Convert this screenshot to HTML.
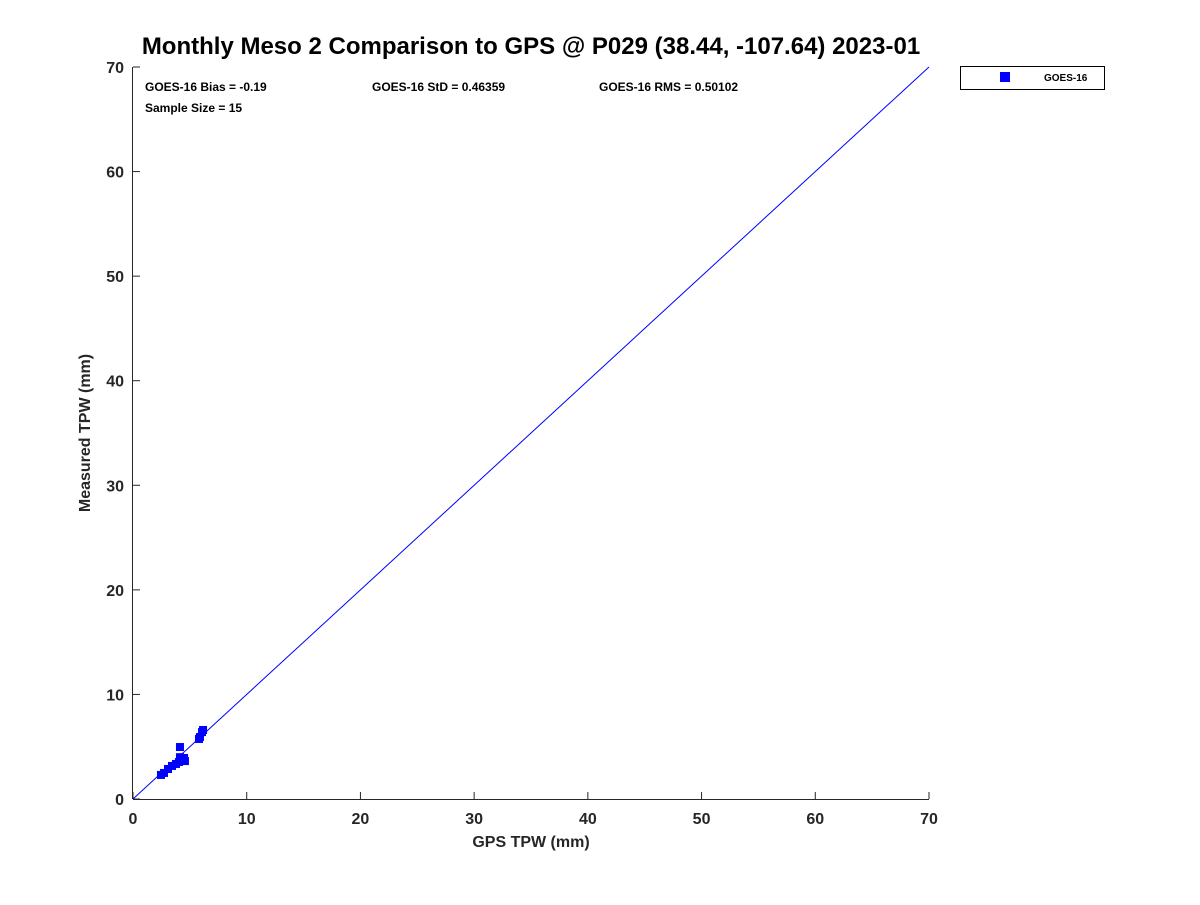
<!DOCTYPE html>
<html><head><meta charset="utf-8"><style>
body{margin:0;background:#fff;}
svg text{font-family:"Liberation Sans","DejaVu Sans",sans-serif;font-weight:bold;}
</style></head><body>
<svg id="chart" width="1200" height="900" xmlns="http://www.w3.org/2000/svg">
<rect width="1200" height="900" fill="#fff"/>
<text x="531" y="54" font-size="24" text-anchor="middle" fill="#000">Monthly Meso 2 Comparison to GPS @ P029 (38.44, -107.64) 2023-01</text>
<g id="axes"></g>
<g id="marks"></g>
<text x="145" y="91" font-size="12">GOES-16 Bias = -0.19</text>
<text x="372" y="91" font-size="12">GOES-16 StD = 0.46359</text>
<text x="599" y="91" font-size="12">GOES-16 RMS = 0.50102</text>
<text x="145" y="112" font-size="12">Sample Size = 15</text>
<text x="531" y="847" font-size="16" text-anchor="middle" fill="#262626">GPS TPW (mm)</text>
<text x="0" y="0" font-size="16" text-anchor="middle" fill="#262626" transform="translate(90,433) rotate(-90)">Measured TPW (mm)</text>
<g>
<rect x="960.5" y="66.5" width="144" height="23" fill="#fff" stroke="#000" stroke-width="1"/>
<rect x="1000" y="72" width="10" height="10" fill="#0000ff"/>
<text x="1044" y="81" font-size="10">GOES-16</text>
</g>
</svg>
<script>
const xTicks=[0,10,20,30,40,50,60,70];
const yTicks=[0,10,20,30,40,50,60,70];
const gpsValues=[2.46,2.73,3.08,3.43,3.78,4.05,4.31,4.49,4.57,4.13,4.13,5.80,5.89,6.07,6.16];
const measuredValues=[2.30,2.49,2.87,3.16,3.35,3.54,3.73,3.92,3.63,4.97,4.00,5.74,5.93,6.40,6.60];
const X0=133,X1=929,Y0=799,Y1=67,MIN=0,MAX=70;
const sx=v=>X0+(v-MIN)/(MAX-MIN)*(X1-X0);
const sy=v=>Y0-(v-MIN)/(MAX-MIN)*(Y0-Y1);
const NS="http://www.w3.org/2000/svg";
const axes=document.getElementById('axes'),marks=document.getElementById('marks');
function mk(tag,attrs,parent){const e=document.createElementNS(NS,tag);for(const k in attrs)e.setAttribute(k,attrs[k]);parent.appendChild(e);return e;}
let l=mk('line',{x1:X0,y1:Y0+0.5,x2:X1,y2:Y0+0.5,stroke:'#262626','stroke-width':1},axes);


l=mk('line',{x1:X0-0.5,y1:Y0,x2:X0-0.5,y2:Y1,stroke:'#262626','stroke-width':1},axes);


xTicks.forEach(t=>{
  const tk=mk('line',{x1:sx(t),y1:Y0,x2:sx(t),y2:Y0-7,stroke:'#262626'},axes);
  
  
  const tx=mk('text',{x:sx(t),y:Y0+25,'font-size':16,'text-anchor':'middle',fill:'#262626'},axes);
  tx.textContent=t;
  
  
});
yTicks.forEach(t=>{
  const tk=mk('line',{x1:X0,y1:sy(t),x2:X0+7,y2:sy(t),stroke:'#262626'},axes);
  
  
  const tx=mk('text',{x:X0-9,y:sy(t)+6,'font-size':16,'text-anchor':'end',fill:'#262626'},axes);
  tx.textContent=t;
  
  
});
const ref=mk('line',{x1:sx(0),y1:sy(0),x2:sx(70),y2:sy(70),stroke:'#0000ff','stroke-width':1},marks);


gpsValues.forEach((g,i)=>{
  const r=mk('rect',{x:sx(g)-4,y:sy(measuredValues[i])-4,width:8,height:8,fill:'#0000ff'},marks);
  
  
});
</script>
</body></html>
